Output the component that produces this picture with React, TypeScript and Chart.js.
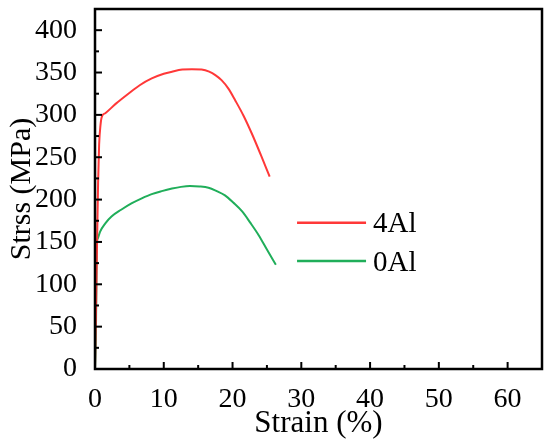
import { useEffect, useRef } from "react";
import { Chart, registerables } from "chart.js";

Chart.register(...registerables);

const FONT = '"Liberation Serif"';

// 4Al curve
const strain4Al = [0, 0.15, 0.3, 0.45, 0.6, 0.8, 1.0, 1.5, 3, 4.85, 6.5, 8.25, 10, 11.2, 12.7, 14.1, 15.5, 16.6, 17.5, 18.4, 19.4, 20.4, 21.6, 22.8, 24.1, 25.4];
const stress4Al = [0, 70, 150, 220, 265, 288, 298, 302, 313, 325, 335, 343, 348.5, 351, 353.5, 354, 353.5, 351, 347, 341, 331, 317, 299, 278, 253, 227];

// 0Al curve
const strain0Al = [0, 0.1, 0.15, 0.2, 0.25, 0.4, 0.73, 1.5, 2.4, 3.8, 5.3, 6.8, 8.25, 9.7, 11.2, 12.5, 13.8, 15.2, 16.5, 17.7, 18.9, 20.1, 21.4, 22.6, 23.8, 25, 26.3];
const stress0Al = [0, 30, 55, 100, 145, 154, 162, 172, 180, 188, 195.5, 201.5, 206.5, 210, 213, 215, 216, 215.5, 214, 210, 205, 196.5, 186, 172.5, 158, 141, 123];

const xTicks = [0, 10, 20, 30, 40, 50, 60];
const xMinor = [5, 15, 25, 35, 45, 55];
const yTicks = [0, 50, 100, 150, 200, 250, 300, 350, 400];
const yMinor = [25, 75, 125, 175, 225, 275, 325, 375];

const toPoints = (xs: number[], ys: number[]) => xs.map((x, i) => ({ x, y: ys[i] }));

// box round the plot, inward ticks, and the legend inside the plot
const framePlugin = {
  id: "frame",
  afterDraw(chart: any) {
    const { ctx, chartArea: a, scales } = chart;
    ctx.save();
    ctx.strokeStyle = "#000";
    ctx.lineWidth = 2.5;
    ctx.strokeRect(a.left, a.top, a.right - a.left, a.bottom - a.top);

    ctx.lineWidth = 2;
    const tick = (x1: number, y1: number, x2: number, y2: number) => {
      ctx.beginPath();
      ctx.moveTo(x1, y1);
      ctx.lineTo(x2, y2);
      ctx.stroke();
    };
    xTicks.forEach((v) => { const p = scales.x.getPixelForValue(v); tick(p, a.bottom, p, a.bottom - 7); });
    xMinor.forEach((v) => { const p = scales.x.getPixelForValue(v); tick(p, a.bottom, p, a.bottom - 4); });
    yTicks.forEach((v) => { const p = scales.y.getPixelForValue(v); tick(a.left, p, a.left + 7, p); });
    yMinor.forEach((v) => { const p = scales.y.getPixelForValue(v); tick(a.left, p, a.left + 4, p); });

    const w = a.right - a.left;
    const h = a.bottom - a.top;
    const lx = a.left + 0.452 * w;
    const rowY = [a.top + 0.594 * h, a.top + 0.7 * h];
    ctx.font = `29px ${FONT}`;
    ctx.textBaseline = "middle";
    ctx.fillStyle = "#000";
    chart.data.datasets.forEach((ds: any, i: number) => {
      ctx.strokeStyle = ds.borderColor;
      ctx.lineWidth = 2.5;
      tick(lx, rowY[i], lx + 69, rowY[i]);
      ctx.fillText(ds.label, lx + 76, rowY[i] + 2);
    });
    ctx.restore();
  },
};

export default function App() {
  const canvasRef = useRef<HTMLCanvasElement>(null);
  const chartRef = useRef<Chart | null>(null);

  useEffect(() => {
    if (!canvasRef.current) return;
    chartRef.current?.destroy();
    chartRef.current = new Chart(canvasRef.current, {
      type: "line",
      data: {
        datasets: [
          { label: "4Al", data: toPoints(strain4Al, stress4Al), borderColor: "#FF3838", borderWidth: 2, pointRadius: 0, cubicInterpolationMode: "monotone" },
          { label: "0Al", data: toPoints(strain0Al, stress0Al), borderColor: "#20AE5A", borderWidth: 2, pointRadius: 0, cubicInterpolationMode: "monotone" },
        ],
      },
      options: {
        animation: false,
        responsive: false,
        layout: { padding: { top: 9, right: 8, left: 0, bottom: 0 } },
        plugins: { legend: { display: false }, tooltip: { enabled: false } },
        scales: {
          x: {
            type: "linear",
            min: 0,
            max: 65,
            afterBuildTicks: (s: any) => { s.ticks = xTicks.map((value) => ({ value })); },
            afterFit: (s: any) => { s.height = 79; s.paddingLeft = 0; s.paddingRight = 0; },
            grid: { display: false },
            border: { display: false },
            ticks: { color: "#000", font: { family: FONT, size: 28 }, padding: 6, maxRotation: 0 },
            title: { display: true, text: "Strain (%)", color: "#000", font: { family: FONT, size: 31 }, padding: { top: 0, bottom: 6 } },
          },
          y: {
            type: "linear",
            min: 0,
            max: 425,
            afterBuildTicks: (s: any) => { s.ticks = yTicks.map((value) => ({ value })); },
            afterFit: (s: any) => { s.width = 95; s.paddingTop = 0; s.paddingBottom = 0; },
            grid: { display: false },
            border: { display: false },
            ticks: { color: "#000", font: { family: FONT, size: 28 }, padding: 10 },
            title: { display: true, text: "Strss (MPa)", color: "#000", font: { family: FONT, size: 30 }, padding: { top: 4, bottom: 0 } },
          },
        },
      },
      plugins: [framePlugin],
    });
    return () => chartRef.current?.destroy();
  }, []);

  return (
    <div style={{ position: "fixed", left: 0, top: 0, width: 550, height: 448, background: "#fff" }}>
      <canvas ref={canvasRef} width={550} height={448} />
    </div>
  );
}
